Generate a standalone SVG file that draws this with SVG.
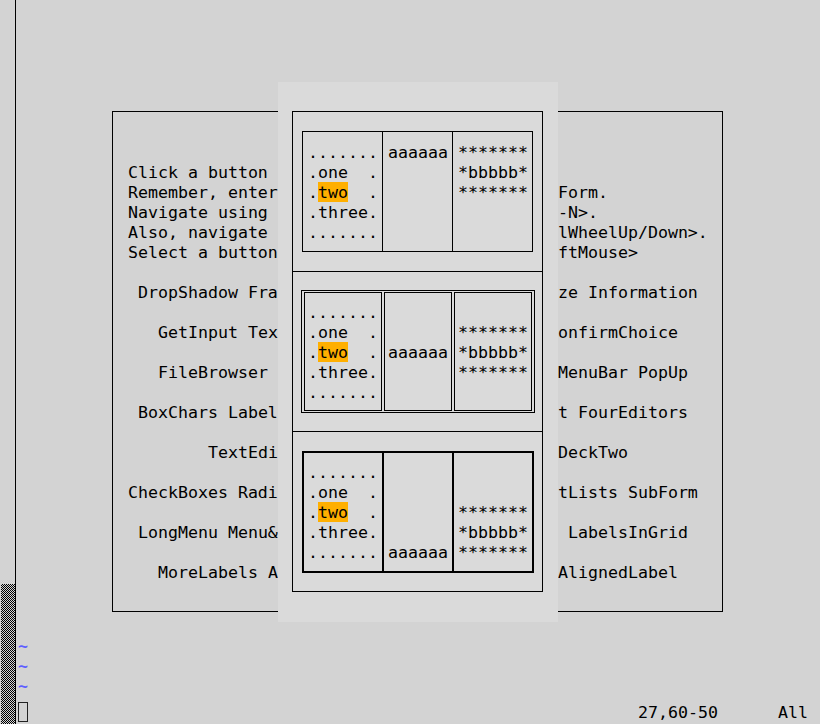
<svg xmlns="http://www.w3.org/2000/svg" width="820" height="724" viewBox="0 0 820 724">
<style>
text{font-family:"DejaVu Sans Mono","Liberation Mono",monospace;font-size:16.6px;fill:#000;white-space:pre}
.ln{fill:none;stroke:#000;stroke-width:1}
.thick{fill:none;stroke:#000;stroke-width:2}
.tilde{fill:#5f5fff;font-weight:bold}
</style>
<defs>
<pattern id="chk" patternUnits="userSpaceOnUse" width="2" height="2">
<rect width="2" height="2" fill="#d3d3d3"/>
<rect width="1" height="1" fill="#000"/>
<rect x="1" y="1" width="1" height="1" fill="#000"/>
</pattern>
</defs>
<rect width="820" height="724" fill="#d3d3d3"/>
<g id="scrollbar">
<rect x="1" y="584" width="14" height="140" fill="url(#chk)"/>
<line x1="15.5" y1="0" x2="15.5" y2="724" class="ln"/>
</g>
<g id="main-form">
<rect x="112.5" y="111.5" width="610" height="500" class="ln"/>
<text x="128" y="178">Click a button</text>
<text x="128" y="198">Remember, enter</text>
<text x="558" y="198">Form.</text>
<text x="128" y="218">Navigate using</text>
<text x="558" y="218">-N&gt;.</text>
<text x="128" y="238">Also, navigate</text>
<text x="558" y="238">lWheelUp/Down&gt;.</text>
<text x="128" y="258">Select a button</text>
<text x="558" y="258">ftMouse&gt;</text>
<text x="138" y="298">DropShadow Fra</text>
<text x="558" y="298">ze Information</text>
<text x="158" y="338">GetInput Tex</text>
<text x="558" y="338">onfirmChoice</text>
<text x="158" y="378">FileBrowser</text>
<text x="558" y="378">MenuBar PopUp</text>
<text x="138" y="418">BoxChars Label</text>
<text x="558" y="418">t FourEditors</text>
<text x="208" y="458">TextEdi</text>
<text x="558" y="458">DeckTwo</text>
<text x="128" y="498">CheckBoxes Radi</text>
<text x="558" y="498">tLists SubForm</text>
<text x="138" y="538">LongMenu Menu&amp;</text>
<text x="568" y="538">LabelsInGrid</text>
<text x="158" y="578">MoreLabels A</text>
<text x="558" y="578">AlignedLabel</text>
</g>
<g id="panel">
<rect x="278" y="82" width="280" height="540" fill="#dadada"/>
<rect x="292.5" y="111.5" width="250" height="480" class="ln"/>
<line x1="292.5" y1="271.5" x2="542.5" y2="271.5" class="ln"/>
<line x1="292.5" y1="431.5" x2="542.5" y2="431.5" class="ln"/>
</g>
<g id="widget-single">
<rect x="302.5" y="131.5" width="230" height="120" class="ln"/>
<line x1="382.5" y1="131.5" x2="382.5" y2="251.5" class="ln"/>
<line x1="452.5" y1="131.5" x2="452.5" y2="251.5" class="ln"/>
<rect x="318" y="182" width="30" height="20" fill="#ffaf00"/>
<text x="308" y="158">.......</text>
<text x="308" y="178">.one  .</text>
<text x="308" y="198">.two  .</text>
<text x="308" y="218">.three.</text>
<text x="308" y="238">.......</text>
<text x="388" y="158">aaaaaa</text>
<text x="458" y="158">*******</text>
<text x="458" y="178">*bbbbb*</text>
<text x="458" y="198">*******</text>
</g>
<g id="widget-double">
<rect x="301.5" y="290.5" width="233" height="122" class="ln"/>
<rect x="304.5" y="292.5" width="77" height="118" class="ln"/>
<rect x="384.5" y="292.5" width="67" height="118" class="ln"/>
<rect x="454.5" y="292.5" width="77" height="118" class="ln"/>
<rect x="318" y="342" width="30" height="20" fill="#ffaf00"/>
<text x="308" y="318">.......</text>
<text x="308" y="338">.one  .</text>
<text x="308" y="358">.two  .</text>
<text x="308" y="378">.three.</text>
<text x="308" y="398">.......</text>
<text x="388" y="358">aaaaaa</text>
<text x="458" y="338">*******</text>
<text x="458" y="358">*bbbbb*</text>
<text x="458" y="378">*******</text>
</g>
<g id="widget-thick">
<rect x="303" y="452" width="230" height="120" class="thick"/>
<line x1="383" y1="452" x2="383" y2="572" class="thick"/>
<line x1="453" y1="452" x2="453" y2="572" class="thick"/>
<rect x="318" y="502" width="30" height="20" fill="#ffaf00"/>
<text x="308" y="478">.......</text>
<text x="308" y="498">.one  .</text>
<text x="308" y="518">.two  .</text>
<text x="308" y="538">.three.</text>
<text x="308" y="558">.......</text>
<text x="388" y="558">aaaaaa</text>
<text x="458" y="518">*******</text>
<text x="458" y="538">*bbbbb*</text>
<text x="458" y="558">*******</text>
</g>
<g id="status">
<text x="18" y="652" class="tilde">~</text>
<text x="18" y="672" class="tilde">~</text>
<text x="18" y="692" class="tilde">~</text>
<rect x="18.5" y="702.5" width="9" height="19" fill="none" stroke="#222" stroke-width="1"/>
<text x="638" y="718">27,60-50</text>
<text x="778" y="718">All</text>
</g>
</svg>
